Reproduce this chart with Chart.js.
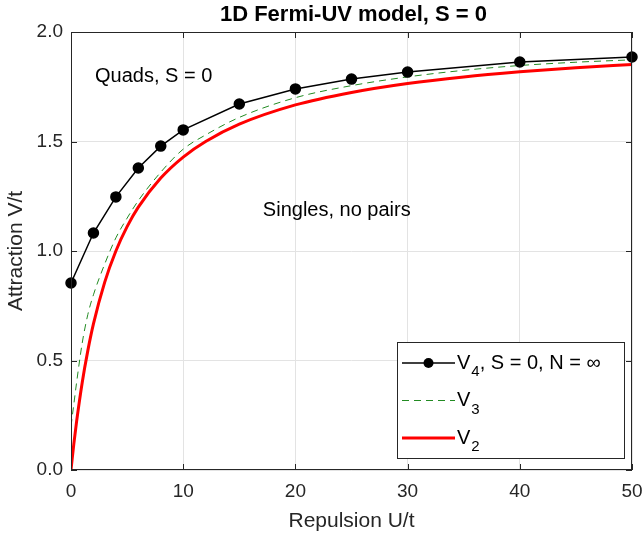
<!DOCTYPE html>
<html lang="en">
<head>
  <meta charset="UTF-8">
  <script src="https://cdn.jsdelivr.net/npm/chart.js"></script>
  <style>
    body { margin: 0; background: #fff; }
  </style>
</head>
<body>
  <canvas id="fermiChart" width="644" height="540"></canvas>

  <script>
    // quads boundary (black markers)
    const quadU = [0, 2, 4, 6, 8, 10, 15, 20, 25, 30, 40, 50];
    const quadV = [0.854, 1.082, 1.247, 1.379, 1.479, 1.553, 1.671, 1.740, 1.785, 1.817, 1.863, 1.886];

    // V3 and V2 curves
    const curveU = [0, 0.1, 0.25, 0.5, 1, 1.5, 2, 3, 4, 5, 6, 8, 10, 12, 15, 20, 25, 30, 35, 40, 45, 50];
    const v3 = [0.20, 0.24, 0.30, 0.40, 0.58, 0.71, 0.80, 0.94, 1.06, 1.15, 1.23, 1.36, 1.465, 1.53, 1.61, 1.70, 1.755, 1.795, 1.825, 1.847, 1.862, 1.873];
    const v2 = [0, 0.049, 0.118, 0.222, 0.40, 0.545, 0.667, 0.857, 1.0, 1.111, 1.2, 1.333, 1.429, 1.5, 1.579, 1.667, 1.724, 1.765, 1.795, 1.818, 1.837, 1.852];

    const xTicks = [0, 10, 20, 30, 40, 50];
    const yTicks = [0, 0.5, 1.0, 1.5, 2.0];

    const FONT = '"Liberation Sans", Arial, Helvetica, sans-serif';
    const TEXT = '#262626';

    const toPoints = (xs, ys) => xs.map((x, i) => ({ x: x, y: ys[i] }));

    // title, frame with inner ticks, annotations and legend
    const decorations = {
      id: 'decorations',
      afterDatasetsDraw(chart) {
        const ctx = chart.ctx;
        const area = chart.chartArea;
        const xs = chart.scales.x;
        const ys = chart.scales.y;
        ctx.save();

        // frame
        ctx.strokeStyle = TEXT;
        ctx.lineWidth = 1;
        ctx.strokeRect(area.left + 0.5, area.top + 0.5, area.right - area.left - 1, area.bottom - area.top - 1);
        ctx.beginPath();
        xTicks.forEach(t => {
          const px = Math.round(xs.getPixelForValue(t)) + 0.5;
          ctx.moveTo(px, area.bottom); ctx.lineTo(px, area.bottom - 6);
          ctx.moveTo(px, area.top); ctx.lineTo(px, area.top + 6);
        });
        yTicks.forEach(t => {
          const py = Math.round(ys.getPixelForValue(t)) + 0.5;
          ctx.moveTo(area.left, py); ctx.lineTo(area.left + 6, py);
          ctx.moveTo(area.right, py); ctx.lineTo(area.right - 6, py);
        });
        ctx.stroke();

        // title
        ctx.fillStyle = '#000';
        ctx.font = 'bold 22px ' + FONT;
        ctx.textAlign = 'center';
        ctx.textBaseline = 'middle';
        ctx.fillText('1D Fermi-UV model, S = 0', (area.left + area.right) / 2 + 2, 15);

        // region labels
        ctx.font = '20px ' + FONT;
        ctx.textAlign = 'left';
        ctx.fillText('Quads, S = 0', xs.getPixelForValue(2.14), ys.getPixelForValue(1.795));
        ctx.fillText('Singles, no pairs', xs.getPixelForValue(17.1), ys.getPixelForValue(1.185));

        // legend
        const boxR = area.right - 8, boxB = area.bottom - 12;
        const boxW = 227, boxH = 116;
        const boxL = boxR - boxW, boxT = boxB - boxH;
        ctx.fillStyle = '#fff';
        ctx.fillRect(boxL, boxT, boxW, boxH);
        ctx.strokeStyle = TEXT;
        ctx.lineWidth = 1;
        ctx.strokeRect(boxL + 0.5, boxT + 0.5, boxW, boxH);

        const items = [
          { sub: '4', rest: ', S = 0, N = \u221E', color: '#000', width: 1.5, dash: [], marker: true },
          { sub: '3', rest: '', color: '#228b22', width: 1, dash: [7, 5], marker: false },
          { sub: '2', rest: '', color: '#ff0000', width: 3, dash: [], marker: false }
        ];
        items.forEach((it, i) => {
          const cy = boxT + 21 + i * 37.5;
          const lx0 = boxL + 5, lx1 = boxL + 58;
          ctx.beginPath();
          ctx.setLineDash(it.dash);
          ctx.strokeStyle = it.color;
          ctx.lineWidth = it.width;
          ctx.moveTo(lx0, cy); ctx.lineTo(lx1, cy);
          ctx.stroke();
          ctx.setLineDash([]);
          if (it.marker) {
            ctx.beginPath();
            ctx.fillStyle = '#000';
            ctx.arc((lx0 + lx1) / 2, cy, 5, 0, Math.PI * 2);
            ctx.fill();
          }
          ctx.fillStyle = '#000';
          ctx.textBaseline = 'middle';
          ctx.font = '20px ' + FONT;
          let tx = lx1 + 2;
          ctx.fillText('V', tx, cy);
          tx += ctx.measureText('V').width;
          ctx.font = '15px ' + FONT;
          ctx.fillText(it.sub, tx + 1, cy + 9);
          tx += ctx.measureText(it.sub).width + 1;
          ctx.font = '20px ' + FONT;
          ctx.fillText(it.rest, tx, cy);
        });

        ctx.restore();
      }
    };

    new Chart(document.getElementById('fermiChart'), {
      type: 'line',
      data: {
        datasets: [
          {
            label: 'V4, S = 0, N = \u221E',
            data: toPoints(quadU, quadV),
            borderColor: '#000',
            backgroundColor: '#000',
            borderWidth: 1.5,
            pointRadius: 5,
            pointHoverRadius: 5,
            tension: 0,
            clip: false
          },
          {
            label: 'V3',
            data: toPoints(curveU, v3),
            borderColor: '#228b22',
            borderWidth: 1,
            borderDash: [7, 5],
            pointRadius: 0,
            cubicInterpolationMode: 'monotone'
          },
          {
            label: 'V2',
            data: toPoints(curveU, v2),
            borderColor: '#ff0000',
            borderWidth: 3,
            pointRadius: 0,
            cubicInterpolationMode: 'monotone'
          }
        ]
      },
      options: {
        responsive: false,
        animation: false,
        devicePixelRatio: 1,
        layout: { padding: { top: 32, right: 12, left: 0, bottom: 0 } },
        plugins: {
          legend: { display: false },
          title: { display: false },
          tooltip: { enabled: false }
        },
        scales: {
          x: {
            type: 'linear',
            min: 0,
            max: 50,
            afterBuildTicks: s => { s.ticks = xTicks.map(v => ({ value: v })); },
            afterFit: s => { s.height = 70; },
            grid: { color: '#e3e3e3', drawTicks: true, tickLength: 10, tickColor: 'rgba(0,0,0,0)' },
            border: { display: false },
            ticks: {
              color: TEXT,
              padding: 0,
              font: { family: FONT, size: 19 },
              maxRotation: 0
            },
            title: {
              display: true,
              text: 'Repulsion U/t',
              color: TEXT,
              font: { family: FONT, size: 21 },
              padding: { top: 0, bottom: 6 }
            }
          },
          y: {
            type: 'linear',
            min: 0,
            max: 2,
            afterBuildTicks: s => { s.ticks = yTicks.map(v => ({ value: v })); },
            afterFit: s => { s.width = 71; },
            grid: { color: '#e3e3e3', drawTicks: false },
            border: { display: false },
            ticks: {
              color: TEXT,
              padding: 8,
              font: { family: FONT, size: 19 },
              callback: v => v.toFixed(1)
            },
            title: {
              display: true,
              text: 'Attraction V/t',
              color: TEXT,
              font: { family: FONT, size: 21 },
              padding: { top: 4, bottom: 0 }
            }
          }
        }
      },
      plugins: [decorations]
    });
  </script>
</body>
</html>
